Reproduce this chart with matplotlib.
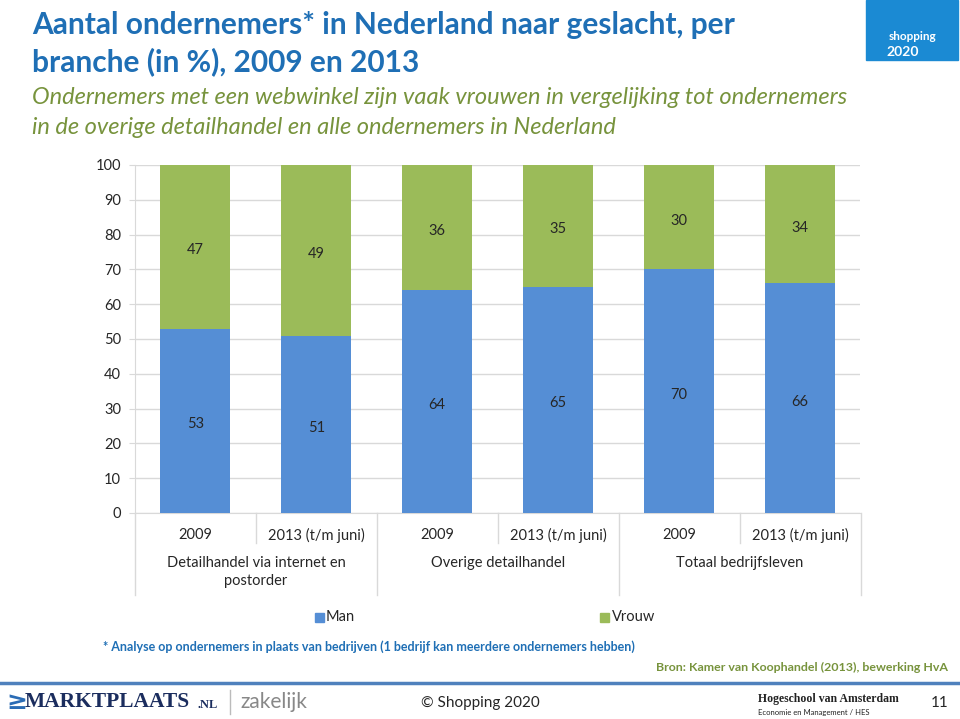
import matplotlib
matplotlib.use("Agg")
import matplotlib.pyplot as plt
from matplotlib.patches import Rectangle
from matplotlib.lines import Line2D

plt.rcParams['font.family'] = ['Lato', 'DejaVu Sans']

years = ["2009", "2013 (t/m juni)", "2009", "2013 (t/m juni)", "2009", "2013 (t/m juni)"]
groups = ["Detailhandel via internet en\npostorder", "Overige detailhandel", "Totaal bedrijfsleven"]
man = [53, 51, 64, 65, 70, 66]
vrouw = [47, 49, 36, 35, 30, 34]
yticks = [0, 10, 20, 30, 40, 50, 60, 70, 80, 90, 100]

BLUE = "#558ED5"
GREEN = "#9BBB59"
TITLE = "#1F6FB5"
SUB = "#77933C"
GRID = "#D9D9D9"
TXT = "#262626"

W, H = 960, 719
fig = plt.figure(figsize=(9.6, 7.19), dpi=100)

def fx(px): return px / W
def fy(py): return 1 - py / H

ax = fig.add_axes([fx(135), fy(513), fx(860) - fx(135), fy(165) - fy(513)])
x = list(range(len(man)))
bw = 0.58
ax.bar(x, man, bw, color=BLUE, label="Man", zorder=3)
ax.bar(x, vrouw, bw, bottom=man, color=GREEN, label="Vrouw", zorder=3)
for i in x:
    ax.text(i, man[i] / 2 - 1, str(man[i]), ha="center", va="center", fontsize=10.5, color=TXT, zorder=4)
    ax.text(i, man[i] + vrouw[i] / 2 - 1, str(vrouw[i]), ha="center", va="center", fontsize=10.5, color=TXT, zorder=4)

ax.set_xlim(-0.5, len(man) - 0.5)
ax.set_ylim(0, 100)
ax.set_yticks(yticks)
ax.set_yticklabels([str(v) for v in yticks], fontsize=10.5, color=TXT)
ax.yaxis.grid(True, color=GRID, linewidth=1, zorder=0)
ax.set_xticks([])
for s in ["top", "right"]:
    ax.spines[s].set_visible(False)
ax.spines["left"].set_color(GRID)
ax.spines["bottom"].set_color(GRID)
ax.tick_params(axis="y", length=4, color=GRID, pad=6)

# category labels
for i, yl in enumerate(years):
    fig.text(fx(135 + 121 * i + 60.5), fy(535), yl, ha="center", va="center", fontsize=10.5, color=TXT)
for g, gl in enumerate(groups):
    fig.text(fx(135 + 242 * g + 121), fy(556), gl, ha="center", va="top", fontsize=10.5, color=TXT, linespacing=1.35)

# separators
for k in range(7):
    xp = 135 + 121 * k
    if k % 2 == 0:
        y0, y1 = 513, 595
    else:
        y0, y1 = 513, 543
    fig.add_artist(Line2D([fx(xp), fx(xp)], [fy(y0), fy(y1)], color=GRID, linewidth=1))

# legend
fig.add_artist(Rectangle((fx(315), fy(622)), fx(9), 9 / H, color=BLUE))
fig.text(fx(326), fy(617), "Man", ha="left", va="center", fontsize=10.5, color=TXT)
fig.add_artist(Rectangle((fx(600), fy(622)), fx(9), 9 / H, color=GREEN))
fig.text(fx(612), fy(617), "Vrouw", ha="left", va="center", fontsize=10.5, color=TXT)

# titles
fig.text(fx(32), fy(25), "Aantal ondernemers* in Nederland naar geslacht, per", ha="left", va="center",
         fontsize=21.5, fontweight="bold", color=TITLE)
fig.text(fx(32), fy(62), "branche (in %), 2009 en 2013", ha="left", va="center",
         fontsize=21.5, fontweight="bold", color=TITLE)
fig.text(fx(32), fy(98), "Ondernemers met een webwinkel zijn vaak vrouwen in vergelijking tot ondernemers", ha="left",
         va="center", fontsize=17, fontstyle="italic", color=SUB)
fig.text(fx(32), fy(127), "in de overige detailhandel en alle ondernemers in Nederland", ha="left",
         va="center", fontsize=17, fontstyle="italic", color=SUB)

# footnotes
fig.text(fx(103), fy(647), "* Analyse op ondernemers in plaats van bedrijven (1 bedrijf kan meerdere ondernemers hebben)",
         ha="left", va="center", fontsize=9, fontweight="bold", color=TITLE)
fig.text(fx(948), fy(667), "Bron: Kamer van Koophandel (2013), bewerking HvA",
         ha="right", va="center", fontsize=8.9, fontweight="bold", color=SUB)

# top-right logo
fig.add_artist(Rectangle((fx(866), fy(60)), fx(92), 60 / H, color="#1B8AD3"))
fig.text(fx(912), fy(36), "shopping", ha="center", va="center", fontsize=8.5, color="white", fontweight="bold")
fig.text(fx(903), fy(52), "2020", ha="center", va="center", fontsize=10, color="white", fontweight="bold")

# bottom bar
fig.add_artist(Line2D([0, 1], [fy(683), fy(683)], color="#4F81BD", linewidth=2.5))
fig.text(fx(6), fy(702), "≥", ha="left", va="center", fontsize=18, color="#2B6CB5", fontweight="bold",
         family="DejaVu Sans")
fig.text(fx(25), fy(702), "MARKTPLAATS", ha="left", va="center", fontsize=15.5, color="#1B2D5E",
         fontweight="bold", family="Liberation Serif")
fig.text(fx(197), fy(705), ".NL", ha="left", va="center", fontsize=9, color="#1B2D5E",
         fontweight="bold", family="Liberation Serif")
fig.add_artist(Line2D([fx(230), fx(230)], [fy(690), fy(714)], color="#BBBBBB", linewidth=1))
fig.text(fx(240), fy(702), "zakelijk", ha="left", va="center", fontsize=15, color="#888888")
fig.text(fx(480), fy(703), "© Shopping 2020", ha="center", va="center", fontsize=11, color=TXT)
fig.text(fx(758), fy(699), "Hogeschool van Amsterdam", ha="left", va="center", fontsize=8.5, color="#222222",
         fontweight="bold", family="Liberation Serif")
fig.text(fx(758), fy(712), "Economie en Management / HES", ha="left", va="center", fontsize=5.5, color="#222222")
fig.text(fx(940), fy(703), "11", ha="center", va="center", fontsize=11, color=TXT)

fig.savefig("out.png", dpi=100)
